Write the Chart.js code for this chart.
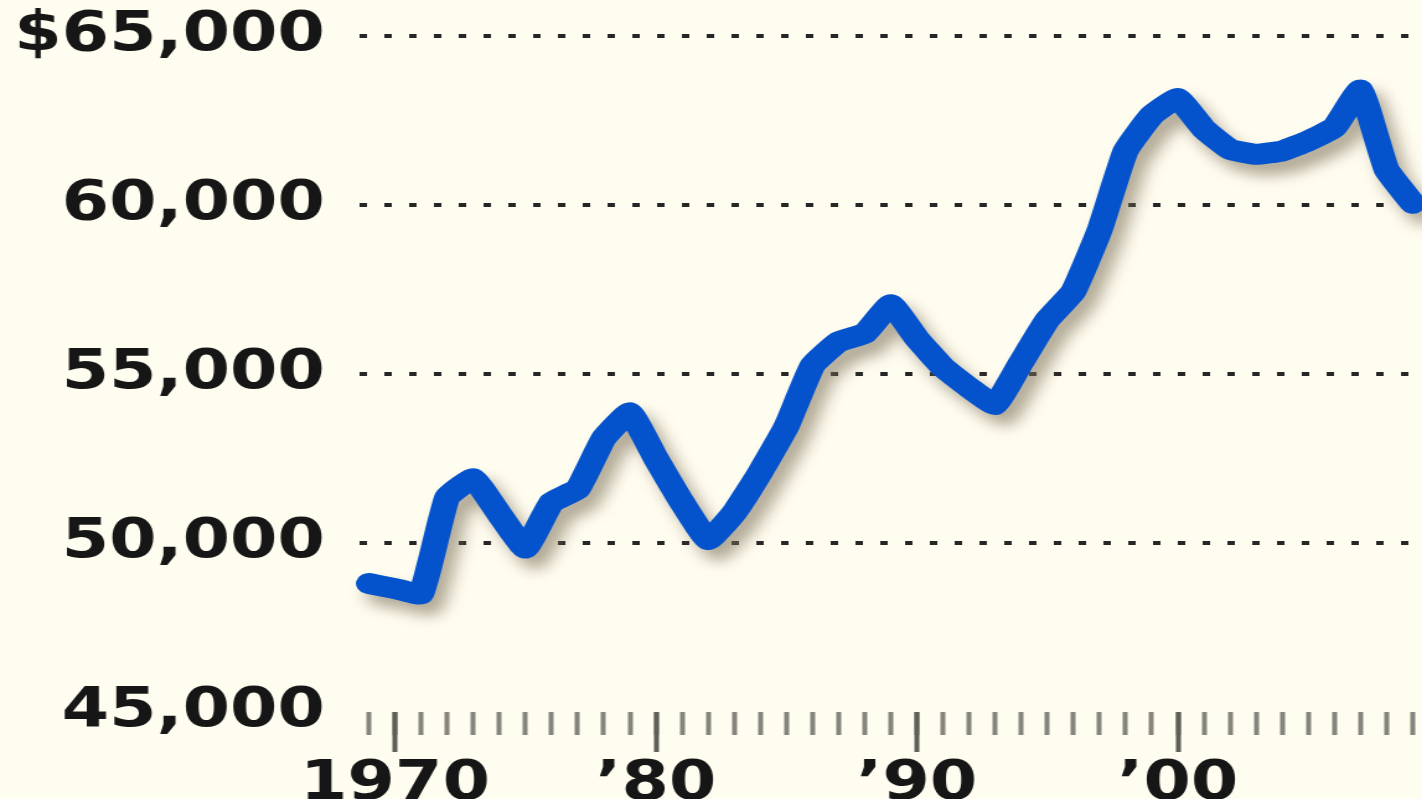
<!DOCTYPE html>
<html>
<head>
<meta charset="utf-8">
<script src="https://cdn.jsdelivr.net/npm/chart.js@4.4.1/dist/chart.umd.min.js"></script>
<style>
  html, body { margin: 0; padding: 0; background: #fffdf0; overflow: hidden; }
  /* drawn narrower, then widened so the lettering gets its broad look */
  #wrap { width: 1147px; height: 799px; transform: scaleX(1.2398); transform-origin: 0 0; }
</style>
</head>
<body>
<div id="wrap"><canvas id="income"></canvas></div>
<script>
// median family income, constant dollars
const years = [
  1969, 1970, 1971, 1972, 1973, 1974, 1975, 1976, 1977, 1978,
  1979, 1980, 1981, 1982, 1983, 1984, 1985, 1986, 1987, 1988,
  1989, 1990, 1991, 1992, 1993, 1994, 1995, 1996, 1997, 1998,
  1999, 2000, 2001, 2002, 2003, 2004, 2005, 2006, 2007, 2008, 2009
];
const income = [
  48800, 48650, 48500, 51350, 51900, 50850, 49850, 51200, 51600, 53100,
  53850, 52500, 51200, 50100, 50900, 52100, 53450, 55250, 55950, 56200,
  57050, 56050, 55200, 54600, 54100, 55350, 56600, 57450, 59250, 61600,
  62650, 63150, 62250, 61650, 61500, 61600, 61900, 62300, 63400, 61050, 60050
];
const yTicks = [45000, 50000, 55000, 60000, 65000];
const decadeTicks = [1970, 1980, 1990, 2000];
const decadeLabels = ['1970', '\u201980', '\u201990', '\u201900'];

const X_MIN = 1968.64, X_MAX = 2009.36;
const labelFont = { family: "'DejaVu Sans', Verdana, sans-serif", weight: 'bold', size: 55 };
const textColor = '#161616';

// keep axes from pushing the plot area inwards
const noPadding = s => {
  s.paddingLeft = 0;
  s.paddingRight = 0;
  s.paddingTop = 0;
  s.paddingBottom = 0;
};

// soft drop shadow under the income line
const lineShadow = {
  id: 'lineShadow',
  beforeDatasetsDraw(chart) {
    const ctx = chart.ctx;
    ctx.save();
    ctx.shadowColor = 'rgba(125, 112, 88, 0.6)';
    ctx.shadowBlur = 14;
    ctx.shadowOffsetX = 8;
    ctx.shadowOffsetY = 11;
  },
  afterDatasetsDraw(chart) {
    chart.ctx.restore();
  }
};

new Chart(document.getElementById('income'), {
  type: 'line',
  data: {
    datasets: [{
      data: years.map((yr, i) => ({ x: yr, y: income[i] })),
      borderColor: '#0553cc',
      borderWidth: 21,
      borderJoinStyle: 'round',
      borderCapStyle: 'round',
      tension: 0.12,
      pointRadius: 0,
      fill: false,
      clip: false
    }]
  },
  options: {
    responsive: true,
    maintainAspectRatio: false,
    animation: false,
    layout: { autoPadding: false, padding: { top: 36, bottom: 87, left: 0, right: 0 } },
    plugins: { legend: { display: false }, tooltip: { enabled: false } },
    scales: {
      // one short tick per year
      x: {
        type: 'linear',
        position: { y: 45000 },
        min: X_MIN, max: X_MAX,
        afterBuildTicks: s => { s.ticks = years.map(v => ({ value: v })); },
        afterFit: noPadding,
        grid: { drawOnChartArea: false, tickLength: 23, tickWidth: 4, tickColor: '#86857d' },
        border: { display: false },
        ticks: { display: false }
      },
      // longer ticks and labels at each decade
      decade: {
        type: 'linear',
        axis: 'x',
        position: { y: 45000 },
        min: X_MIN, max: X_MAX,
        afterBuildTicks: s => { s.ticks = decadeTicks.map(v => ({ value: v })); },
        afterFit: noPadding,
        grid: { drawOnChartArea: false, tickLength: 40, tickWidth: 4, tickColor: '#5f5e58' },
        border: { display: false },
        ticks: {
          autoSkip: false, maxRotation: 0, padding: 0,
          font: labelFont, color: textColor,
          callback: v => decadeLabels[decadeTicks.indexOf(v)]
        }
      },
      y: {
        min: 45000, max: 65000,
        afterBuildTicks: s => { s.ticks = yTicks.map(v => ({ value: v })); },
        afterFit: s => {
          noPadding(s);
          s.width = 290;
        },
        grid: {
          drawTicks: false,
          lineWidth: 4,
          color: c => c.tick && c.tick.value === 45000 ? 'rgba(0,0,0,0)' : '#262626'
        },
        border: { display: false, dash: [6, 14] },
        ticks: {
          padding: 28,
          font: labelFont, color: textColor,
          callback: v => (v === 65000 ? '$' : '') + v.toLocaleString('en-US')
        }
      }
    }
  },
  plugins: [lineShadow]
});
</script>
</body>
</html>
